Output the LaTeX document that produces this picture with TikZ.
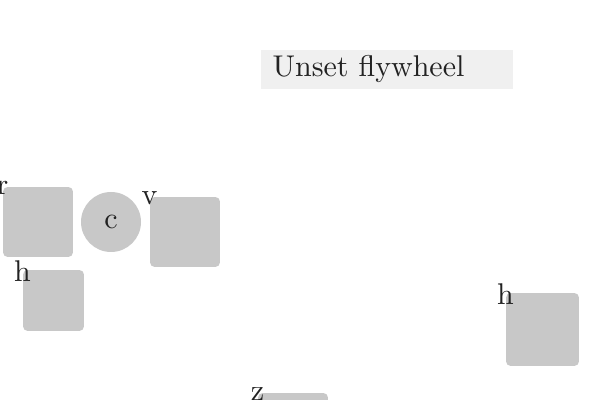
\documentclass[tikz,border=0pt]{standalone}
\usepackage{tikz}
\definecolor{partgray}{HTML}{C8C8C8}
\definecolor{titlegray}{HTML}{F0F0F0}
\definecolor{ink}{HTML}{222222}
\tikzset{
	part/.style={fill=partgray, rounded corners=1.5pt, minimum size=#1, inner sep=0pt},
	wheel/.style={circle, fill=partgray, minimum size=20pt, inner sep=0pt},
	title/.style={fill=titlegray, anchor=west, text width=76pt, inner xsep=4pt, inner ysep=1.5pt, minimum height=13pt, align=left},
	tag/.style={yshift=-0.5pt}
}

\begin{document}
\begin{tikzpicture}[x=1pt/3, y=-1pt/3, text=ink]
				\useasboundingbox (0,0) rectangle (600,400);
				
				\node[title] (head) at (260,69.5) {Unset flywheel};
				
				\node[part=23.3pt] (r) at (38,222) {};
				\node[wheel] (c) at (111,222) {c};
				\node[part=23.3pt] (v) at (185,232) {};
				\node[part=20.3pt] (hl) at (53.5,300.5) {};
				\node[part=24.3pt] (hr) at (542.5,329.5) {};
				\node[part=23.3pt] (z) at (293,428) {};
				
				\node[tag] (rlab) at (r.north west) {r};
				\node[tag] (vlab) at (v.north west) {v};
				\node[tag] (hllab) at (hl.north west) {h};
				\node[tag] (hrlab) at (hr.north west) {h};
				\node[tag] (zlab) at (z.north west) {z};
			\end{tikzpicture}
\end{document}
